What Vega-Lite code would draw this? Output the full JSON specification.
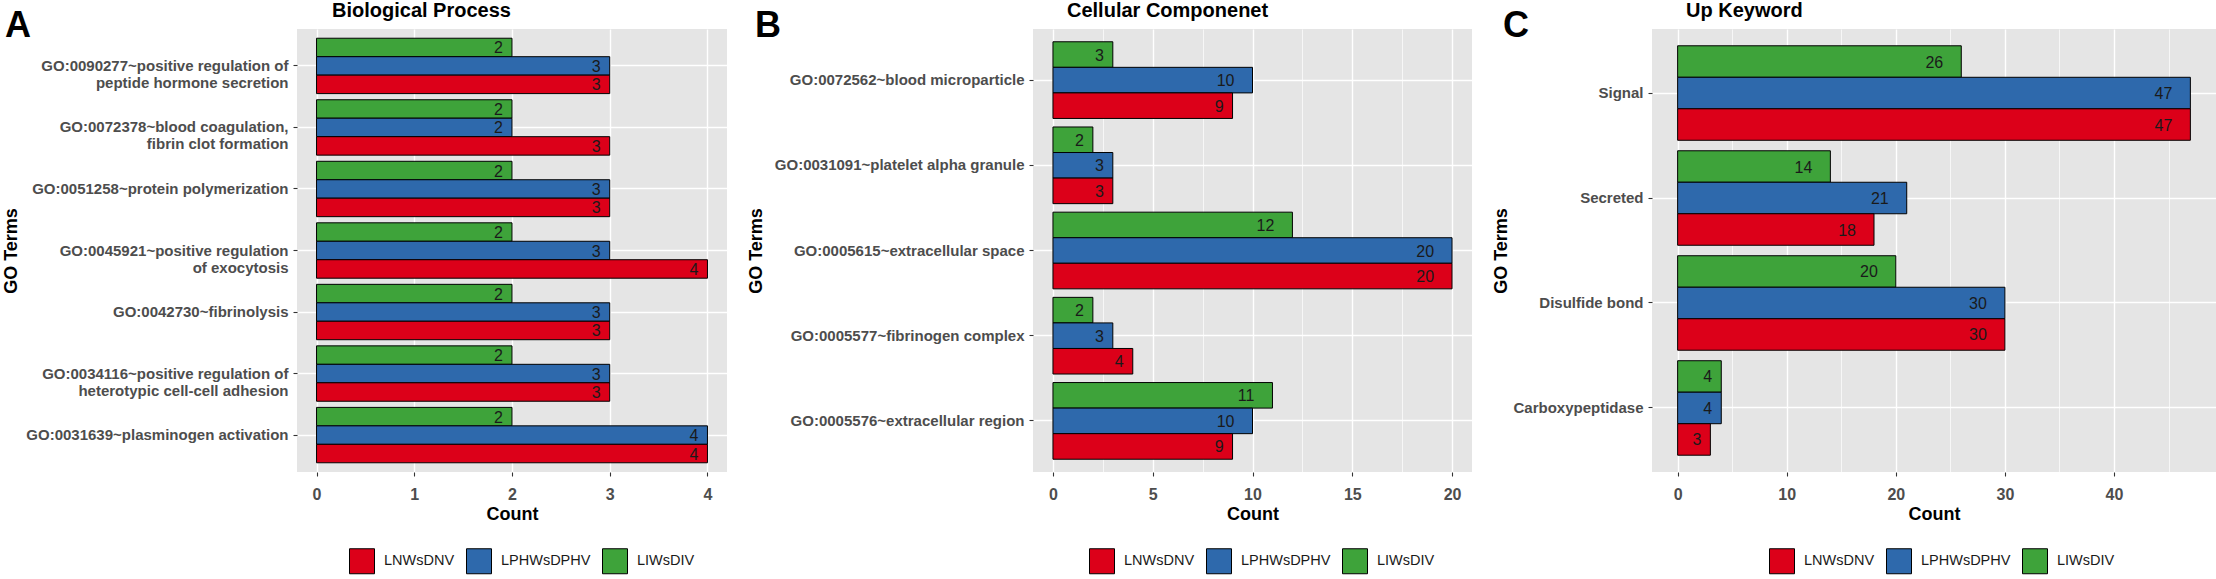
{
  "$schema": "https://vega.github.io/schema/vega-lite/v6.json",
  "padding": {"left": 2, "top": 1, "right": 0, "bottom": 0},
  "spacing": 20,
  "datasets": {
    "bp": [
      {"term": "GO:0090277~positive regulation of|peptide hormone secretion", "group": "LIWsDIV", "count": 2},
      {"term": "GO:0090277~positive regulation of|peptide hormone secretion", "group": "LPHWsDPHV", "count": 3},
      {"term": "GO:0090277~positive regulation of|peptide hormone secretion", "group": "LNWsDNV", "count": 3},
      {"term": "GO:0072378~blood coagulation,|fibrin clot formation", "group": "LIWsDIV", "count": 2},
      {"term": "GO:0072378~blood coagulation,|fibrin clot formation", "group": "LPHWsDPHV", "count": 2},
      {"term": "GO:0072378~blood coagulation,|fibrin clot formation", "group": "LNWsDNV", "count": 3},
      {"term": "GO:0051258~protein polymerization", "group": "LIWsDIV", "count": 2},
      {"term": "GO:0051258~protein polymerization", "group": "LPHWsDPHV", "count": 3},
      {"term": "GO:0051258~protein polymerization", "group": "LNWsDNV", "count": 3},
      {"term": "GO:0045921~positive regulation|of exocytosis", "group": "LIWsDIV", "count": 2},
      {"term": "GO:0045921~positive regulation|of exocytosis", "group": "LPHWsDPHV", "count": 3},
      {"term": "GO:0045921~positive regulation|of exocytosis", "group": "LNWsDNV", "count": 4},
      {"term": "GO:0042730~fibrinolysis", "group": "LIWsDIV", "count": 2},
      {"term": "GO:0042730~fibrinolysis", "group": "LPHWsDPHV", "count": 3},
      {"term": "GO:0042730~fibrinolysis", "group": "LNWsDNV", "count": 3},
      {"term": "GO:0034116~positive regulation of|heterotypic cell-cell adhesion", "group": "LIWsDIV", "count": 2},
      {"term": "GO:0034116~positive regulation of|heterotypic cell-cell adhesion", "group": "LPHWsDPHV", "count": 3},
      {"term": "GO:0034116~positive regulation of|heterotypic cell-cell adhesion", "group": "LNWsDNV", "count": 3},
      {"term": "GO:0031639~plasminogen activation", "group": "LIWsDIV", "count": 2},
      {"term": "GO:0031639~plasminogen activation", "group": "LPHWsDPHV", "count": 4},
      {"term": "GO:0031639~plasminogen activation", "group": "LNWsDNV", "count": 4}
    ],
    "cc": [
      {"term": "GO:0072562~blood microparticle", "group": "LIWsDIV", "count": 3},
      {"term": "GO:0072562~blood microparticle", "group": "LPHWsDPHV", "count": 10},
      {"term": "GO:0072562~blood microparticle", "group": "LNWsDNV", "count": 9},
      {"term": "GO:0031091~platelet alpha granule", "group": "LIWsDIV", "count": 2},
      {"term": "GO:0031091~platelet alpha granule", "group": "LPHWsDPHV", "count": 3},
      {"term": "GO:0031091~platelet alpha granule", "group": "LNWsDNV", "count": 3},
      {"term": "GO:0005615~extracellular space", "group": "LIWsDIV", "count": 12},
      {"term": "GO:0005615~extracellular space", "group": "LPHWsDPHV", "count": 20},
      {"term": "GO:0005615~extracellular space", "group": "LNWsDNV", "count": 20},
      {"term": "GO:0005577~fibrinogen complex", "group": "LIWsDIV", "count": 2},
      {"term": "GO:0005577~fibrinogen complex", "group": "LPHWsDPHV", "count": 3},
      {"term": "GO:0005577~fibrinogen complex", "group": "LNWsDNV", "count": 4},
      {"term": "GO:0005576~extracellular region", "group": "LIWsDIV", "count": 11},
      {"term": "GO:0005576~extracellular region", "group": "LPHWsDPHV", "count": 10},
      {"term": "GO:0005576~extracellular region", "group": "LNWsDNV", "count": 9}
    ],
    "kw": [
      {"term": "Signal", "group": "LIWsDIV", "count": 26},
      {"term": "Signal", "group": "LPHWsDPHV", "count": 47},
      {"term": "Signal", "group": "LNWsDNV", "count": 47},
      {"term": "Secreted", "group": "LIWsDIV", "count": 14},
      {"term": "Secreted", "group": "LPHWsDPHV", "count": 21},
      {"term": "Secreted", "group": "LNWsDNV", "count": 18},
      {"term": "Disulfide bond", "group": "LIWsDIV", "count": 20},
      {"term": "Disulfide bond", "group": "LPHWsDPHV", "count": 30},
      {"term": "Disulfide bond", "group": "LNWsDNV", "count": 30},
      {"term": "Carboxypeptidase", "group": "LIWsDIV", "count": 4},
      {"term": "Carboxypeptidase", "group": "LPHWsDPHV", "count": 4},
      {"term": "Carboxypeptidase", "group": "LNWsDNV", "count": 3}
    ]
  },
  "config": {
    "font": "Liberation Sans",
    "view": {"fill": "#E5E5E5", "stroke": null},
    "axis": {
      "domain": false,
      "labelFont": "Liberation Sans",
      "labelFontWeight": "bold",
      "labelColor": "#4D4D4D",
      "titleFont": "Liberation Sans",
      "titleFontWeight": "bold",
      "titleColor": "#000000",
      "tickColor": "#333333",
      "tickSize": 4,
      "tickWidth": 1.1,
      "gridColor": "#FFFFFF"
    },
    "axisX": {"labelFontSize": 16, "labelPadding": 10, "titleFontSize": 18, "titlePadding": 3},
    "axisY": {"labelFontSize": 15, "labelPadding": 5, "labelLineHeight": 17, "labelLimit": 400, "titleFontSize": 18, "titlePadding": 2, "gridWidth": 1.4},
    "legend": {
      "title": null,
      "direction": "horizontal",
      "symbolType": "square",
      "symbolSize": 625,
      "symbolStrokeColor": "#000000",
      "symbolStrokeWidth": 1,
      "labelFont": "Liberation Sans",
      "labelFontSize": 14.5,
      "labelColor": "#1A1A1A",
      "labelOffset": 9,
      "columnPadding": 9
    },
    "title": {"font": "Liberation Sans", "fontWeight": "bold", "color": "#000000"}
  },
  "resolve": {"scale": {"color": "independent", "yOffset": "independent"}, "legend": {"color": "independent"}},
  "hconcat": [
    {
      "title": {"text": "A", "anchor": "start", "frame": "bounds", "fontSize": 36, "dx": 3, "offset": -44},
      "resolve": {"legend": {"color": "independent"}},
      "vconcat": [
        {
          "width": 430,
          "height": 443,
          "data": {"name": "bp"},
          "title": {"text": "Biological Process", "anchor": "start", "frame": "group", "dx": 35, "fontSize": 20, "offset": 8},
          "encoding": {
            "y": {
              "field": "term",
              "type": "nominal",
              "sort": [
                "GO:0090277~positive regulation of|peptide hormone secretion",
                "GO:0072378~blood coagulation,|fibrin clot formation",
                "GO:0051258~protein polymerization",
                "GO:0045921~positive regulation|of exocytosis",
                "GO:0042730~fibrinolysis",
                "GO:0034116~positive regulation of|heterotypic cell-cell adhesion",
                "GO:0031639~plasminogen activation"
              ],
              "scale": {"paddingInner": 0.1, "paddingOuter": 0.15},
              "axis": {"title": "GO Terms", "minExtent": 275, "maxExtent": 275, "labelExpr": "split(datum.label, '|')", "grid": true, "bandPosition": 0.5}
            },
            "yOffset": {"field": "group", "type": "nominal", "sort": ["LIWsDIV", "LPHWsDPHV", "LNWsDNV"], "scale": {"paddingInner": 0, "paddingOuter": 0}},
            "x": {
              "field": "count",
              "type": "quantitative",
              "stack": null,
              "scale": {"domain": [-0.2, 4.2], "nice": false, "zero": false},
              "axis": {
                "title": "Count",
                "values": [0, 0.5, 1, 1.5, 2, 2.5, 3, 3.5, 4],
                "format": "d",
                "labelExpr": "datum.value % 1 == 0 ? datum.label : ''",
                "tickOpacity": {"condition": {"test": "datum.value % 1 != 0", "value": 0}, "value": 1},
                "gridWidth": {"condition": {"test": "datum.value % 1 != 0", "value": 0.7}, "value": 1.4}
              }
            }
          },
          "layer": [
            {
              "mark": {"type": "bar", "stroke": "#000000", "strokeWidth": 1},
              "encoding": {
                "color": {
                  "field": "group",
                  "type": "nominal",
                  "scale": {"domain": ["LNWsDNV", "LPHWsDPHV", "LIWsDIV"], "range": ["#DC0019", "#2E69AC", "#3EA33A"]},
                  "legend": {"orient": "none", "legendX": 52, "legendY": 519}
                }
              }
            },
            {
              "transform": [{"filter": "datum.count < 10"}],
              "mark": {"type": "text", "align": "right", "baseline": "middle", "dx": -9, "dy": 1, "fontSize": 16, "color": "#1A1A1A"},
              "encoding": {"text": {"field": "count", "type": "quantitative"}}
            },
            {
              "transform": [{"filter": "datum.count >= 10"}],
              "mark": {"type": "text", "align": "right", "baseline": "middle", "dx": -18, "dy": 1, "fontSize": 16, "color": "#1A1A1A"},
              "encoding": {"text": {"field": "count", "type": "quantitative"}}
            }
          ]
        }
      ]
    },
    {
      "title": {"text": "B", "anchor": "start", "frame": "bounds", "fontSize": 36, "dx": 8, "offset": -44},
      "resolve": {"legend": {"color": "independent"}},
      "vconcat": [
        {
          "width": 439,
          "height": 443,
          "data": {"name": "cc"},
          "title": {"text": "Cellular Componenet", "anchor": "start", "frame": "group", "dx": 34, "fontSize": 20, "offset": 8},
          "encoding": {
            "y": {
              "field": "term",
              "type": "nominal",
              "sort": [
                "GO:0072562~blood microparticle",
                "GO:0031091~platelet alpha granule",
                "GO:0005615~extracellular space",
                "GO:0005577~fibrinogen complex",
                "GO:0005576~extracellular region"
              ],
              "scale": {"paddingInner": 0.1, "paddingOuter": 0.15},
              "axis": {"title": "GO Terms", "minExtent": 266, "maxExtent": 266, "grid": true, "bandPosition": 0.5}
            },
            "yOffset": {"field": "group", "type": "nominal", "sort": ["LIWsDIV", "LPHWsDPHV", "LNWsDNV"], "scale": {"paddingInner": 0, "paddingOuter": 0}},
            "x": {
              "field": "count",
              "type": "quantitative",
              "stack": null,
              "scale": {"domain": [-1, 21], "nice": false, "zero": false},
              "axis": {
                "title": "Count",
                "values": [0, 2.5, 5, 7.5, 10, 12.5, 15, 17.5, 20],
                "format": "d",
                "labelExpr": "datum.value % 5 == 0 ? datum.label : ''",
                "tickOpacity": {"condition": {"test": "datum.value % 5 != 0", "value": 0}, "value": 1},
                "gridWidth": {"condition": {"test": "datum.value % 5 != 0", "value": 0.7}, "value": 1.4}
              }
            }
          },
          "layer": [
            {
              "mark": {"type": "bar", "stroke": "#000000", "strokeWidth": 1},
              "encoding": {
                "color": {
                  "field": "group",
                  "type": "nominal",
                  "scale": {"domain": ["LNWsDNV", "LPHWsDPHV", "LIWsDIV"], "range": ["#DC0019", "#2E69AC", "#3EA33A"]},
                  "legend": {"orient": "none", "legendX": 56, "legendY": 519}
                }
              }
            },
            {
              "transform": [{"filter": "datum.count < 10"}],
              "mark": {"type": "text", "align": "right", "baseline": "middle", "dx": -9, "dy": 1, "fontSize": 16, "color": "#1A1A1A"},
              "encoding": {"text": {"field": "count", "type": "quantitative"}}
            },
            {
              "transform": [{"filter": "datum.count >= 10"}],
              "mark": {"type": "text", "align": "right", "baseline": "middle", "dx": -18, "dy": 1, "fontSize": 16, "color": "#1A1A1A"},
              "encoding": {"text": {"field": "count", "type": "quantitative"}}
            }
          ]
        }
      ]
    },
    {
      "title": {"text": "C", "anchor": "start", "frame": "bounds", "fontSize": 36, "dx": 11, "offset": -44},
      "resolve": {"legend": {"color": "independent"}},
      "vconcat": [
        {
          "width": 564,
          "height": 443,
          "data": {"name": "kw"},
          "title": {"text": "Up Keyword", "anchor": "start", "frame": "group", "dx": 34, "fontSize": 20, "offset": 8},
          "encoding": {
            "y": {
              "field": "term",
              "type": "nominal",
              "sort": ["Signal", "Secreted", "Disulfide bond", "Carboxypeptidase"],
              "scale": {"paddingInner": 0.1, "paddingOuter": 0.16},
              "axis": {"title": "GO Terms", "minExtent": 140, "maxExtent": 140, "grid": true, "bandPosition": 0.5}
            },
            "yOffset": {"field": "group", "type": "nominal", "sort": ["LIWsDIV", "LPHWsDPHV", "LNWsDNV"], "scale": {"paddingInner": 0, "paddingOuter": 0}},
            "x": {
              "field": "count",
              "type": "quantitative",
              "stack": null,
              "scale": {"domain": [-2.35, 49.35], "nice": false, "zero": false},
              "axis": {
                "title": "Count",
                "values": [0, 5, 10, 15, 20, 25, 30, 35, 40, 45],
                "format": "d",
                "labelExpr": "datum.value % 10 == 0 ? datum.label : ''",
                "tickOpacity": {"condition": {"test": "datum.value % 10 != 0", "value": 0}, "value": 1},
                "gridWidth": {"condition": {"test": "datum.value % 10 != 0", "value": 0.7}, "value": 1.4}
              }
            }
          },
          "layer": [
            {
              "mark": {"type": "bar", "stroke": "#000000", "strokeWidth": 1},
              "encoding": {
                "color": {
                  "field": "group",
                  "type": "nominal",
                  "scale": {"domain": ["LNWsDNV", "LPHWsDPHV", "LIWsDIV"], "range": ["#DC0019", "#2E69AC", "#3EA33A"]},
                  "legend": {"orient": "none", "legendX": 117, "legendY": 519}
                }
              }
            },
            {
              "transform": [{"filter": "datum.count < 10"}],
              "mark": {"type": "text", "align": "right", "baseline": "middle", "dx": -9, "dy": 1, "fontSize": 16, "color": "#1A1A1A"},
              "encoding": {"text": {"field": "count", "type": "quantitative"}}
            },
            {
              "transform": [{"filter": "datum.count >= 10"}],
              "mark": {"type": "text", "align": "right", "baseline": "middle", "dx": -18, "dy": 1, "fontSize": 16, "color": "#1A1A1A"},
              "encoding": {"text": {"field": "count", "type": "quantitative"}}
            }
          ]
        }
      ]
    }
  ]
}
